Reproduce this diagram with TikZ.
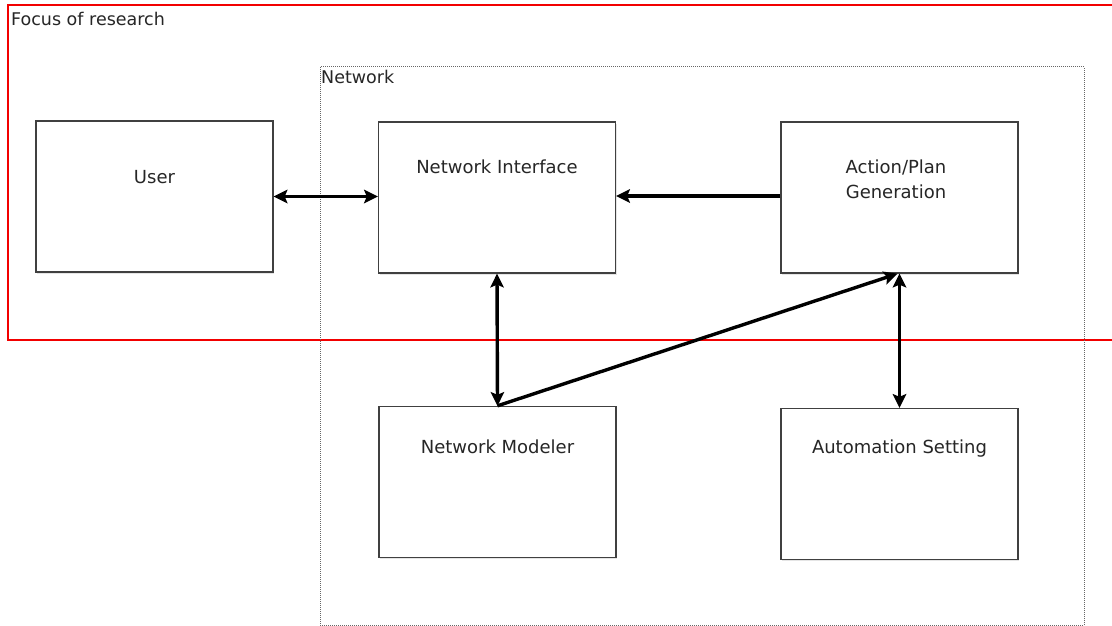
\documentclass[tikz,border=0pt]{standalone}
\usepackage{fontspec}
\setmainfont{DejaVu Sans}
\usetikzlibrary{arrows.meta,shadows}
\begin{document}
\begin{tikzpicture}[x=1pt,y=-1pt,
  box/.style={draw=black!75,line width=1.4pt,fill=white,minimum width=237pt,minimum height=151pt,inner sep=0pt,
    drop shadow={opacity=0.2,shadow xshift=1pt,shadow yshift=-1.5pt}},
  lbl/.style={font=\fontsize{18}{25}\selectfont,text=black!85,align=center,inner sep=0pt},
  ttl/.style={font=\fontsize{17.5}{20}\selectfont,text=black!85,inner sep=0pt,anchor=west},
  conn/.style={line width=3.4pt,black},
  tipa/.style={arrows={-{Stealth[length=14pt,width=14pt,inset=3pt,fill=black,line width=0pt]}}},
  tipb/.style={arrows={{Stealth[length=14pt,width=14pt,inset=3pt,fill=black,line width=0pt]}-{Stealth[length=14pt,width=14pt,inset=3pt,fill=black,line width=0pt]}}}
]
\useasboundingbox (0,0) rectangle (1112,626);
\clip (0,0) rectangle (1112,626);
\fill[white] (0,0) rectangle (1112,626);
% containers
\draw[red!95!black,line width=2.4pt] (1130,5) -- (8,5) -- (8,340) -- (1130,340);
\node[ttl] (focus) at (11,19) {Focus of research};
\draw[black!60,dash pattern=on 1pt off 1pt,line width=1pt] (320,67) rectangle (1084,625);
\node[ttl] (net) at (321,77) {Network};
% boxes
\node[box] (user) at (154.5,196.5) {};
\node[box] (ni) at (497,197.5) {};
\node[box] (ap) at (899.5,197.5) {};
\node[box] (nm) at (497.5,482) {};
\node[box] (as) at (899.5,484) {};
\node[lbl] (usert) at (154.5,177) {User};
\node[lbl] (nit) at (497,167) {Network Interface};
\node[lbl] (apt) at (896,179.5) {Action/Plan\\Generation};
\node[lbl] (nmt) at (497.5,447) {Network Modeler};
\node[lbl] (ast) at (899.5,449) {Automation Setting};
% connectors
\draw[conn,tipb] (user.east) -- (user.east -| ni.west);
\draw[conn,tipa] ([yshift=1.5pt]ap.west) -- ([yshift=1.5pt]ap.west -| ni.east);
\draw[conn,tipb] (ni.south) -- (nm.north);
\draw[conn,tipa] (nm.north) -- ([xshift=-2pt]ap.south);
\draw[conn,tipb] (ap.south) -- (as.north);
\end{tikzpicture}
\end{document}
